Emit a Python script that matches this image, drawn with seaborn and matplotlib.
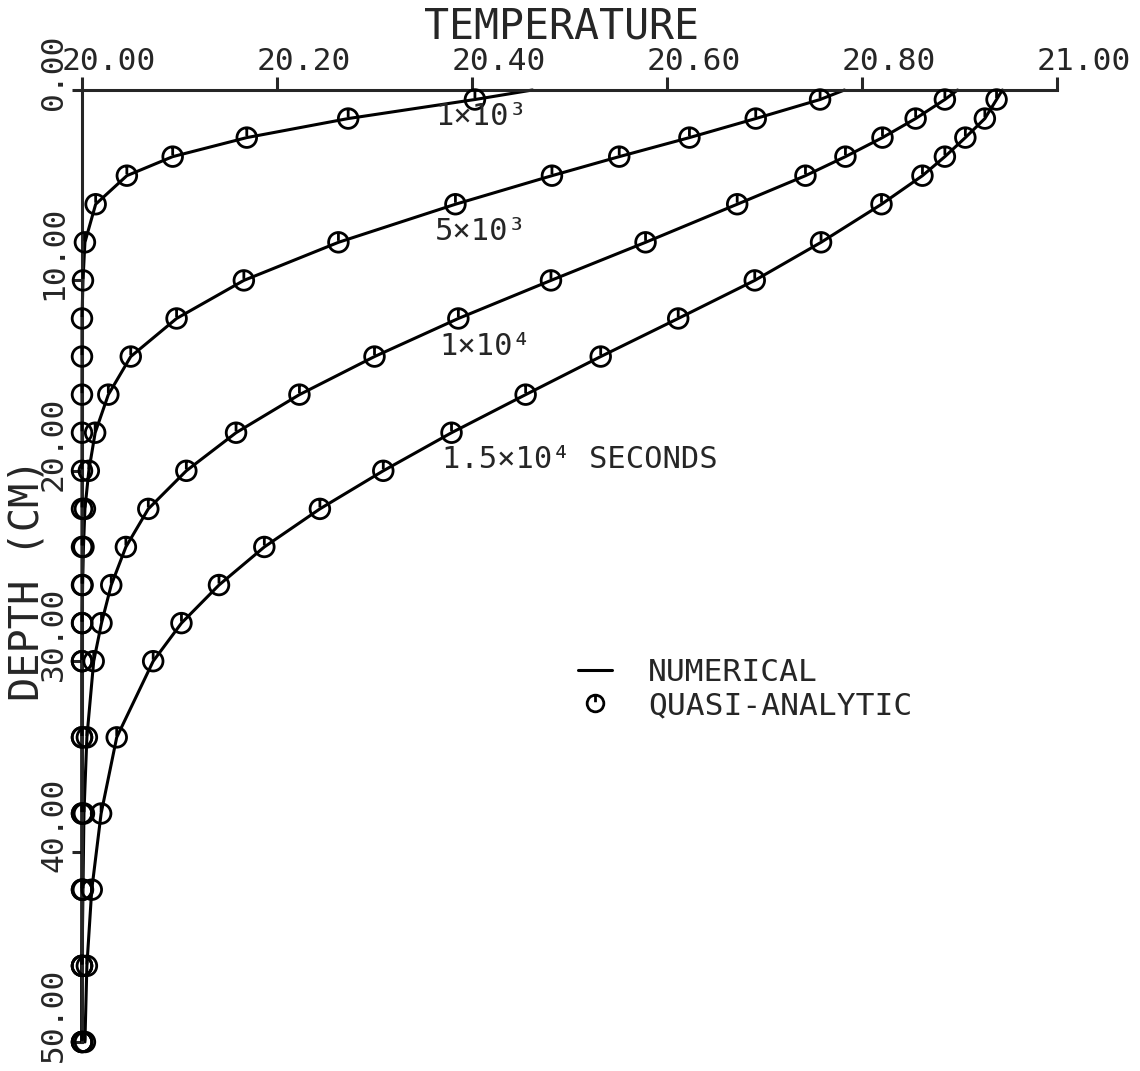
import numpy as np
import pandas as pd
import matplotlib
matplotlib.use("Agg")
import matplotlib.pyplot as plt
from matplotlib.path import Path
from matplotlib.lines import Line2D
from matplotlib.transforms import ScaledTranslation
import seaborn as sns

# Depths (cm) at which the quasi-analytic solution is evaluated
ANALYTIC_DEPTH = [0.5, 1.5, 2.5, 3.5, 4.5, 6, 8, 10, 12, 14, 16, 18, 20,
                  22, 24, 26, 28, 30, 34, 38, 42, 46, 50]
# The numerical profiles also carry the surface value
NUMERICAL_DEPTH = [0.0] + ANALYTIC_DEPTH

TIMES = ["1e3", "5e3", "1e4", "1.5e4"]

# Temperature profiles at the analytic depths
T_1E3 = [20.403, 20.273, 20.169, 20.093, 20.046, 20.014, 20.003, 20.001,
         20.0, 20.0, 20.0, 20.0, 20.0, 20.0, 20.0, 20.0, 20.0, 20.0,
         20.0, 20.0, 20.0, 20.0, 20.0]
T_5E3 = [20.757, 20.691, 20.623, 20.551, 20.482, 20.383, 20.263, 20.166,
         20.097, 20.050, 20.027, 20.0135, 20.007, 20.003, 20.0015, 20.0006,
         20.0002, 20.0, 20.0, 20.0, 20.0, 20.0, 20.0]
T_1E4 = [20.885, 20.855, 20.821, 20.783, 20.742, 20.672, 20.578, 20.481,
         20.386, 20.300, 20.223, 20.158, 20.107, 20.068, 20.045, 20.030,
         20.020, 20.012, 20.005, 20.002, 20.001, 20.0, 20.0]
T_15E3 = [20.938, 20.926, 20.906, 20.885, 20.862, 20.820, 20.758, 20.690,
          20.6115, 20.532, 20.455, 20.379, 20.309, 20.244, 20.187, 20.1405,
          20.102, 20.073, 20.0356, 20.0196, 20.010, 20.005, 20.003]
ANALYTIC_T = [T_1E3, T_5E3, T_1E4, T_15E3]

# Surface temperature of each numerical profile
SURFACE_T = [20.462, 20.782, 20.898, 20.944]

CURVE_LABELS = ["1×10³", "5×10³", "1×10⁴", "1.5×10⁴ SECONDS"]
LABEL_T = [20.362, 20.362, 20.367, 20.369]
LABEL_DEPTH = [1.84, 7.88, 13.9, 19.85]

X_TICKS = [20.0, 20.2, 20.4, 20.6, 20.8, 21.0]
X_TICK_LABELS = ["20.00", "20.20", "20.40", "20.60", "20.80", "21.00"]
Y_TICKS = [0, 10, 20, 30, 40, 50]
Y_TICK_LABELS = ["0.00", "10.00", "20.00", "30.00", "40.00", "50.00"]

# ---- tidy tables -------------------------------------------------------
numerical = pd.concat(
    [pd.DataFrame({"time": t, "depth": NUMERICAL_DEPTH, "temp": [s] + vals})
     for t, s, vals in zip(TIMES, SURFACE_T, ANALYTIC_T)],
    ignore_index=True)
analytic = pd.concat(
    [pd.DataFrame({"time": t, "depth": ANALYTIC_DEPTH, "temp": vals})
     for t, vals in zip(TIMES, ANALYTIC_T)],
    ignore_index=True)

# ---- style -------------------------------------------------------------
sns.set_style("white")
plt.rcParams["font.family"] = ["DejaVu Sans Mono", "DejaVu Sans"]
plt.rcParams["axes.linewidth"] = 2.2

# plotter-style symbol: open circle with a short stroke from the top
circle = Path.unit_circle()
stroke = Path([(0.0, 1.0), (0.0, 0.15)], [Path.MOVETO, Path.LINETO])
SYMBOL = Path.make_compound_path(circle, stroke)

fig = plt.figure(figsize=(11.4, 10.71), dpi=100)
ax = fig.add_axes([82 / 1140, 1 - 1042 / 1071, 975 / 1140, 952 / 1071])

sns.lineplot(data=numerical, x="temp", y="depth", units="time",
             estimator=None, sort=False, color="black", linewidth=2.2,
             legend=False, clip_on=False, ax=ax)
sns.scatterplot(data=analytic, x="temp", y="depth", marker=SYMBOL, s=200,
                facecolor="none", edgecolor="black", linewidth=2.0,
                legend=False, clip_on=False, zorder=3, ax=ax)

for lab, t, d in zip(CURVE_LABELS, LABEL_T, LABEL_DEPTH):
    ax.text(t, d, lab, ha="left", va="baseline", fontsize=22)

# ---- axes --------------------------------------------------------------
ax.set_xlim(20.0, 21.0)
ax.set_ylim(50, 0)
for side in ("right", "bottom"):
    ax.spines[side].set_visible(False)
ax.xaxis.tick_top()
ax.xaxis.set_label_position("top")
ax.set_xticks(X_TICKS, X_TICK_LABELS)
ax.set_yticks(Y_TICKS, Y_TICK_LABELS)
ax.tick_params(axis="x", direction="out", length=9.5, width=2.2, pad=5,
               labelsize=22.5, top=True, bottom=False)
ax.tick_params(axis="y", direction="out", length=7, width=2.2, pad=7.4,
               labelsize=22.5, left=True)

shift_x = ScaledTranslation(-0.20, 0, fig.dpi_scale_trans)
for lab in ax.get_xticklabels():
    lab.set_horizontalalignment("left")
    lab.set_verticalalignment("baseline")
    lab.set_transform(lab.get_transform() + shift_x)

shift_y = ScaledTranslation(0, -0.20, fig.dpi_scale_trans)
for lab in ax.get_yticklabels():
    lab.set_rotation(90)
    lab.set_rotation_mode("anchor")
    lab.set_horizontalalignment("left")
    lab.set_verticalalignment("baseline")
    lab.set_transform(lab.get_transform() + shift_y)

ax.set_xlabel("TEMPERATURE", fontsize=30)
ax.xaxis.label.set_verticalalignment("baseline")
ax.xaxis.set_label_coords(0.492, 1.0546)
ax.set_ylabel("DEPTH (CM)", fontsize=29)
ax.yaxis.label.set_verticalalignment("baseline")
ax.yaxis.set_label_coords(-0.045, 0.486)

handles = [
    Line2D([], [], color="black", linewidth=2.2),
    Line2D([], [], linestyle="none", marker=SYMBOL, markersize=12,
           markerfacecolor="none", markeredgecolor="black",
           markeredgewidth=2.0),
]
ax.legend(handles, ["NUMERICAL", "QUASI-ANALYTIC"], loc="upper left",
          bbox_to_anchor=(0.5087, 0.403), frameon=False, fontsize=22.5,
          borderaxespad=0, borderpad=0, handlelength=1.1,
          handletextpad=1.15, labelspacing=0.12, numpoints=1)

fig.savefig("out.png", dpi=100)
